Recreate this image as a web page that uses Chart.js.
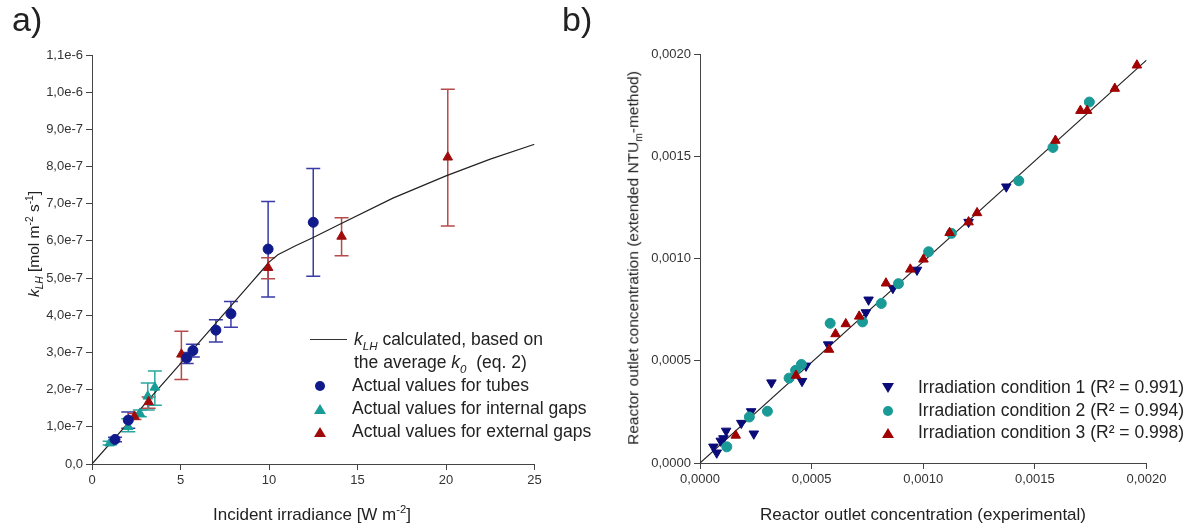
<!DOCTYPE html>
<html>
<head>
<meta charset="utf-8">
<script src="https://cdn.jsdelivr.net/npm/chart.js@4"></script>
<style>
  body { margin: 0; background: #fff; }
  #wrap { position: relative; width: 1192px; height: 529px; overflow: hidden; background: #fff;
          font-family: "Liberation Sans", Arial, sans-serif; color: #222; }
  canvas { position: absolute; top: 0; }
  .t { position: absolute; white-space: nowrap; font-size: 17.5px; line-height: 1; }
  .yt { font-size: 15.5px; }
  .xt { font-size: 17px; }
  .rot { transform: translate(-50%, -50%) rotate(-90deg); }
  .ctr { transform: translate(-50%, -50%); }
  .mid { transform: translateY(-50%); }
  sup, sub { font-size: 0.66em; line-height: 0; }
  .dot { position: absolute; width: 10px; height: 10px; border-radius: 50%; transform: translate(-50%, -50%); }
  .up { position: absolute; width: 0; height: 0; border-left: 6px solid transparent; border-right: 6px solid transparent;
        border-bottom: 10px solid; transform: translate(-50%, -50%); }
  .down { position: absolute; width: 0; height: 0; border-left: 6px solid transparent; border-right: 6px solid transparent;
          border-top: 10px solid; transform: translate(-50%, -50%); }
</style>
</head>
<body>
<div id="wrap">
  <canvas id="left" width="590" height="529" style="left:0"></canvas>
  <canvas id="right" width="596" height="529" style="left:596px"></canvas>

  <div class="t" style="left:12px;top:2px;font-size:34px;">a)</div>
  <div class="t" style="left:562px;top:2px;font-size:34px;">b)</div>

  <div class="t yt rot" style="left:34px;top:244px;"><i>k<sub>LH</sub></i> [mol m<sup>-2</sup> s<sup>-1</sup>]</div>
  <div class="t xt ctr" style="left:312px;top:514px;">Incident irradiance [W m<sup>-2</sup>]</div>
  <div class="t yt rot" style="left:633px;top:258px;">Reactor outlet concentration (extended NTU<sub>m</sub>-method)</div>
  <div class="t xt ctr" style="left:923px;top:514px;">Reactor outlet concentration (experimental)</div>

  <!-- legend a -->
  <div style="position:absolute;left:310px;top:339px;width:37px;border-top:1px solid #333;"></div>
  <div class="t mid" style="left:354px;top:340px;"><i>k<sub>LH</sub></i> calculated, based on</div>
  <div class="t mid" style="left:354px;top:363px;">the average <i>k<sub>0</sub></i>&nbsp; (eq. 2)</div>
  <div class="dot" style="left:320px;top:386px;background:#101a8a;"></div>
  <div class="t mid" style="left:352px;top:386px;">Actual values for tubes</div>
  <div class="up" style="left:320px;top:409px;color:#179c96;"></div>
  <div class="t mid" style="left:352px;top:409px;">Actual values for internal gaps</div>
  <div class="up" style="left:320px;top:432px;color:#a00c0c;"></div>
  <div class="t mid" style="left:352px;top:432px;">Actual values for external gaps</div>

  <!-- legend b -->
  <div class="down" style="left:888px;top:388px;color:#0a0a78;"></div>
  <div class="t mid" style="left:918px;top:388px;">Irradiation condition 1 (R² = 0.991)</div>
  <div class="dot" style="left:888px;top:411px;background:#1a9a96;"></div>
  <div class="t mid" style="left:918px;top:411px;">Irradiation condition 2 (R² = 0.994)</div>
  <div class="up" style="left:888px;top:433px;color:#a00000;"></div>
  <div class="t mid" style="left:918px;top:433px;">Irradiation condition 3 (R² = 0.998)</div>
</div>

<script>
// a) kLH vs incident irradiance
const tubesX = [1.3, 2.05, 5.35, 5.7, 7.0, 7.85, 9.95, 12.5];
const tubesY = [0.66e-7, 1.18e-7, 2.85e-7, 3.05e-7, 3.6e-7, 4.04e-7, 5.78e-7, 6.5e-7];
const tubesLo = [0.60e-7, 0.96e-7, 2.70e-7, 2.88e-7, 3.28e-7, 3.68e-7, 4.49e-7, 5.05e-7];
const tubesHi = [0.72e-7, 1.40e-7, 3.00e-7, 3.22e-7, 3.88e-7, 4.37e-7, 7.06e-7, 7.95e-7];

const internalX = [1.0, 2.05, 2.7, 3.15, 3.55];
const internalY = [0.56e-7, 1.0e-7, 1.36e-7, 1.82e-7, 2.06e-7];
const internalLo = [0.51e-7, 0.87e-7, 1.27e-7, 1.45e-7, 1.58e-7];
const internalHi = [0.61e-7, 1.22e-7, 1.45e-7, 2.18e-7, 2.50e-7];

const externalX = [2.4, 3.2, 5.05, 9.95, 14.1, 20.1];
const externalY = [1.28e-7, 1.67e-7, 2.95e-7, 5.28e-7, 6.12e-7, 8.25e-7];
const externalLo = [1.20e-7, 1.50e-7, 2.27e-7, 4.98e-7, 5.60e-7, 6.40e-7];
const externalHi = [1.36e-7, 1.80e-7, 3.57e-7, 5.55e-7, 6.62e-7, 10.08e-7];

const curveX = [0, 5, 9, 9.5, 10, 10.5, 11.5, 12.5, 14, 17, 20, 22.5, 25];
const curveY = [0, 2.7e-7, 4.88e-7, 5.15e-7, 5.43e-7, 5.63e-7, 5.87e-7, 6.09e-7, 6.45e-7, 7.15e-7, 7.75e-7, 8.2e-7, 8.6e-7];

// b) model vs experiment
const cond1X = [0.000060, 0.000075, 0.000093, 0.000105, 0.000117, 0.000185, 0.000229, 0.000241, 0.000320, 0.000457,
                0.000475, 0.000574, 0.000743, 0.000755, 0.000864, 0.000972, 0.001203, 0.001372];
const cond1Y = [0.000079, 0.000050, 0.000108, 0.000120, 0.000157, 0.000195, 0.000252, 0.000143, 0.000393, 0.000400,
                0.000475, 0.000579, 0.000736, 0.000798, 0.000855, 0.000944, 0.001178, 0.001351];
const cond2X = [0.000120, 0.000221, 0.000302, 0.000399, 0.000428, 0.000454, 0.000583, 0.000728, 0.000812, 0.000889,
                0.001024, 0.001126, 0.001428, 0.001581, 0.001744];
const cond2Y = [0.000079, 0.000225, 0.000253, 0.000415, 0.000453, 0.000482, 0.000683, 0.000690, 0.000780, 0.000877,
                0.001033, 0.001123, 0.001380, 0.001543, 0.001765];
const cond3X = [0.000160, 0.000430, 0.000578, 0.000607, 0.000653, 0.000713, 0.000833, 0.000942, 0.001001, 0.001118,
                0.001203, 0.001241, 0.001592, 0.001704, 0.001734, 0.001858, 0.001957];
const cond3Y = [0.000135, 0.000428, 0.000555, 0.000631, 0.000680, 0.000717, 0.000879, 0.000947, 0.000996, 0.001126,
                0.001178, 0.001223, 0.001577, 0.001723, 0.001723, 0.001831, 0.001945];
const fitX = [0, 0.0020];
const fitY = [0, 0.00197];

const pts = (xs, ys) => xs.map((x, i) => ({ x: x, y: ys[i] }));

const tickFont = { family: 'Liberation Sans', size: 13 };
const axisColor = '#444';

// vertical error bars with caps, drawn under the markers
const errorBars = {
  id: 'errorBars',
  beforeDatasetsDraw(chart) {
    const ctx = chart.ctx;
    const xs = chart.scales.x, ys = chart.scales.y;
    chart.data.datasets.forEach(ds => {
      if (!ds.errLow) return;
      ctx.save();
      ctx.strokeStyle = ds.errColor;
      ctx.lineWidth = 1.5;
      ds.data.forEach((p, i) => {
        const x = xs.getPixelForValue(p.x);
        const top = ys.getPixelForValue(ds.errHigh[i]);
        const bot = ys.getPixelForValue(ds.errLow[i]);
        ctx.beginPath();
        ctx.moveTo(x, top); ctx.lineTo(x, bot);
        ctx.moveTo(x - 7, top); ctx.lineTo(x + 7, top);
        ctx.moveTo(x - 7, bot); ctx.lineTo(x + 7, bot);
        ctx.stroke();
      });
      ctx.restore();
    });
  }
};

function scale(min, max, step, fmt, fit) {
  return {
    type: 'linear', min: min, max: max,
    ticks: { stepSize: step, color: '#333', font: tickFont, padding: 3, autoSkip: false, maxRotation: 0, callback: fmt },
    grid: { drawOnChartArea: false, drawTicks: true, tickLength: 6, color: axisColor },
    border: { color: axisColor, width: 1 },
    afterFit: fit
  };
}

const baseOpts = {
  responsive: false,
  animation: false,
  plugins: { legend: { display: false }, tooltip: { enabled: false } }
};

new Chart(document.getElementById('left'), {
  type: 'scatter',
  data: {
    datasets: [
      { data: pts(tubesX, tubesY), errLow: tubesLo, errHigh: tubesHi, errColor: '#3a3aa8',
        pointStyle: 'circle', pointRadius: 5, backgroundColor: '#101a8a', borderColor: '#101a8a' },
      { data: pts(externalX, externalY), errLow: externalLo, errHigh: externalHi, errColor: '#b84a4a',
        pointStyle: 'triangle', pointRadius: 5.5, backgroundColor: '#a00c0c', borderColor: '#a00c0c' },
      { data: pts(internalX, internalY), errLow: internalLo, errHigh: internalHi, errColor: '#2aa69e',
        pointStyle: 'triangle', pointRadius: 5.5, backgroundColor: '#179c96', borderColor: '#179c96' },
      { data: pts(curveX, curveY), showLine: true, pointRadius: 0, borderColor: '#222', borderWidth: 1.2, tension: 0 }
    ]
  },
  options: Object.assign({}, baseOpts, {
    layout: { padding: { left: 0, top: 55, right: 55.5, bottom: 25 } },
    scales: {
      x: scale(0, 25, 5, v => String(v), s => { s.height = 40; }),
      y: scale(0, 1.1e-6, 1e-7, v => v === 0 ? '0,0' : v.toExponential(1).replace('.', ','), s => { s.width = 92; })
    }
  }),
  plugins: [errorBars]
});

const concFmt = v => v.toFixed(4).replace('.', ',');

new Chart(document.getElementById('right'), {
  type: 'scatter',
  data: {
    datasets: [
      { data: pts(cond3X, cond3Y), pointStyle: 'triangle', pointRadius: 5.5, backgroundColor: '#a00000', borderColor: '#a00000' },
      { data: pts(cond2X, cond2Y), pointStyle: 'circle', pointRadius: 5, backgroundColor: '#1a9a96', borderColor: '#1a9a96' },
      { data: pts(cond1X, cond1Y), pointStyle: 'triangle', rotation: 180, pointRadius: 5.5, backgroundColor: '#0a0a78', borderColor: '#0a0a78' },
      { data: pts(fitX, fitY), showLine: true, pointRadius: 0, borderColor: '#222', borderWidth: 1.2 }
    ]
  },
  options: Object.assign({}, baseOpts, {
    layout: { padding: { left: 0, top: 54, right: 45.5, bottom: 25 } },
    scales: {
      x: scale(0, 0.002, 0.0005, concFmt, s => { s.height = 41; }),
      y: scale(0, 0.002, 0.0005, concFmt, s => { s.width = 104; })
    }
  })
});
</script>
</body>
</html>
